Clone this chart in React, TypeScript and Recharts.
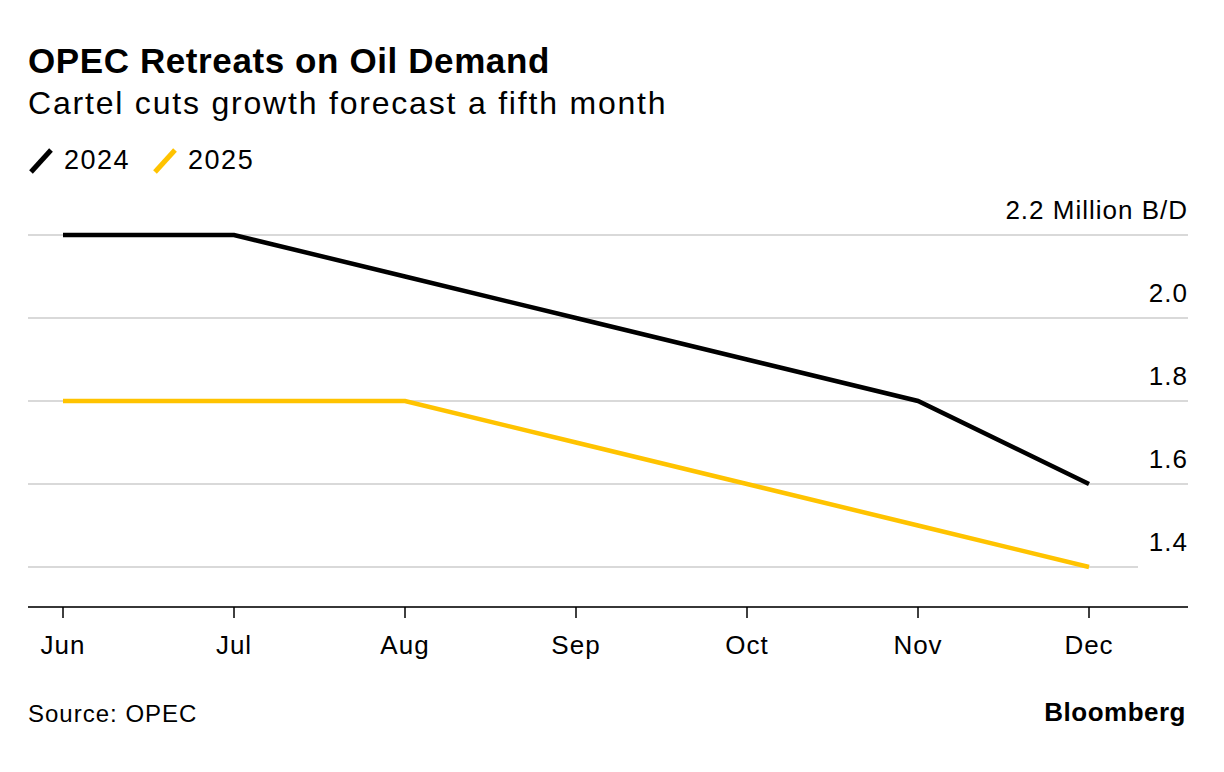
import React from 'react'
import { LineChart, Line, XAxis, YAxis, CartesianGrid } from 'recharts'

const MONTHS = ['Jun', 'Jul', 'Aug', 'Sep', 'Oct', 'Nov', 'Dec']
const Y2024 = [2.2, 2.2, 2.1, 2.0, 1.9, 1.8, 1.6]
const Y2025 = [1.8, 1.8, 1.8, 1.7, 1.6, 1.5, 1.4]
const Y_TICKS = [1.4, 1.6, 1.8, 2.0, 2.2]

const SERIES = [
  { key: 'y2024', name: '2024', color: '#000000' },
  { key: 'y2025', name: '2025', color: '#FFC300' },
]

const data = MONTHS.map((m, i) => ({ month: m, y2024: Y2024[i], y2025: Y2025[i] }))

const FONT = '"Liberation Sans", Arial, Helvetica, sans-serif'
const PLOT_RIGHT = 1188

function YTick(props: any) {
  const { y, payload } = props
  const v = payload.value
  const isTop = v === Y_TICKS[Y_TICKS.length - 1]
  return (
    <text
      x={PLOT_RIGHT}
      y={y - 16}
      textAnchor="end"
      fontSize={26}
      letterSpacing={1}
      fontFamily={FONT}
      fill="#000"
    >
      {isTop ? v.toFixed(1) + ' Million B/D' : v.toFixed(1)}
    </text>
  )
}

// bottom gridline stops short of the right edge
function GridLine(props: any) {
  const { x1, x2, y1, y2, index } = props
  return (
    <line
      x1={x1}
      x2={index === 0 ? x2 - 50 : x2}
      y1={y1}
      y2={y2}
      stroke="#d9d9d9"
      strokeWidth={2}
    />
  )
}

export default function App() {
  return (
    <div style={{ position: 'absolute', left: 0, top: 0, width: 1224, height: 772, background: '#fff', fontFamily: FONT, color: '#000' }}>
      <div style={{ position: 'absolute', left: 28, top: 43, fontSize: 35, lineHeight: 1, fontWeight: 700, letterSpacing: 0.6, whiteSpace: 'nowrap' }}>
        OPEC Retreats on Oil Demand
      </div>
      <div style={{ position: 'absolute', left: 28, top: 87, fontSize: 32, lineHeight: 1, letterSpacing: 1.8, whiteSpace: 'nowrap' }}>
        Cartel cuts growth forecast a fifth month
      </div>
      <div style={{ position: 'absolute', left: 28, top: 147, display: 'flex', alignItems: 'center', fontSize: 27, lineHeight: 1, letterSpacing: 1.5 }}>
        {SERIES.map((s) => (
          <div key={s.key} style={{ display: 'flex', alignItems: 'center', marginRight: 22 }}>
            <svg width={26} height={26} style={{ marginRight: 10 }}>
              <line x1={3} y1={24} x2={23} y2={2} stroke={s.color} strokeWidth={5} />
            </svg>
            <span>{s.name}</span>
          </div>
        ))}
      </div>

      <div style={{ position: 'absolute', left: 0, top: 0 }}>
        <LineChart
          width={1224}
          height={680}
          data={data}
          margin={{ top: 235, right: 0, bottom: 23, left: 28 }}
        >
          <CartesianGrid vertical={false} horizontal={(p: any) => <GridLine key={p.key ?? p.index} {...p} />} />
          <XAxis
            dataKey="month"
            padding={{ left: 35, right: 99 }}
            axisLine={{ stroke: '#000', strokeWidth: 1.5 }}
            tickLine={{ stroke: '#000', strokeWidth: 1.5 }}
            tickSize={11}
            tickMargin={18}
            height={50}
            tick={{ fontSize: 26, fill: '#000', fontFamily: FONT, letterSpacing: 1 }}
          />
          <YAxis
            orientation="right"
            width={36}
            domain={[1.3036, 2.2]}
            ticks={Y_TICKS}
            axisLine={false}
            tickLine={false}
            tick={<YTick />}
          />
          {SERIES.map((s) => (
            <Line
              key={s.key}
              dataKey={s.key}
              name={s.name}
              stroke={s.color}
              strokeWidth={4.5}
              dot={false}
              activeDot={false}
              type="linear"
              isAnimationActive={false}
            />
          ))}
        </LineChart>
      </div>

      <div style={{ position: 'absolute', left: 28, top: 702, fontSize: 24, lineHeight: 1, letterSpacing: 1 }}>
        Source: OPEC
      </div>
      <div style={{ position: 'absolute', right: 38, top: 699, fontSize: 26, lineHeight: 1, fontWeight: 700, letterSpacing: 0.5 }}>
        Bloomberg
      </div>
    </div>
  )
}
